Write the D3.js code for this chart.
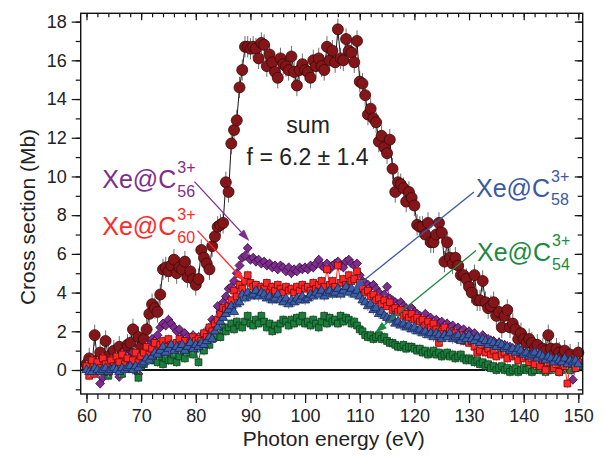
<!DOCTYPE html>
<html>
<head>
<meta charset="utf-8">
<script src="https://cdn.jsdelivr.net/npm/d3@7"></script>
<style>
  body { margin: 0; background: #fff; }
  svg { display: block; }
  text { font-family: "Liberation Sans", Arial, Helvetica, sans-serif; }
</style>
</head>
<body>
<svg id="chart" width="604" height="457"></svg>
<script>
// Photon energy grid: 60 eV to 150 eV in 0.5 eV steps
const eStart = 60, eStep = 0.5;

// Cross sections (Mb), one value per energy step
const sumCS = [
  0.3,0.6,0.2,1.8,0.5,0.9,0.4,1.5,0.7,0.3,1.0,0.6,1.2,0.5,0.9,1.3,1.4,2.1,0.8,1.7,1.2,
  1.6,2.1,2.9,3.4,3.2,3.0,3.9,5.2,5.3,5.1,5.4,5.7,5.0,5.3,5.2,5.6,4.8,5.1,4.7,4.4,
  4.7,6.2,5.8,5.5,5.2,6.4,6.9,7.4,7.5,7.6,9.7,9.2,11.7,12.4,12.9,14.6,15.5,16.7,16.7,16.6,
  16.7,16.6,16.1,16.9,16.8,15.7,16.3,15.9,15.4,15.1,16.1,15.8,15.7,15.5,16.2,15.4,14.7,15.5,15.8,15.5,
  15.4,15.1,16.0,15.7,16.1,15.7,15.5,16.7,16.0,16.5,15.9,17.6,16.1,16.0,17.1,16.5,16.4,15.9,17.0,14.9,
  14.8,14.2,13.2,13.5,13.0,12.8,11.8,12.1,11.5,11.2,11.9,10.4,9.2,9.7,9.6,9.4,8.7,9.2,8.9,8.5,
  7.5,7.4,7.4,7.0,7.6,6.6,6.6,7.0,7.6,7.1,5.6,6.6,5.8,5.5,5.8,5.4,4.9,4.9,4.7,4.3,
  4.0,4.9,3.6,3.6,4.6,3.5,3.2,3.3,3.5,2.8,3.0,2.2,2.8,3.1,2.2,2.4,2.1,1.6,1.9,1.6,
  1.4,1.6,1.4,1.1,1.3,0.9,1.1,1.0,1.8,1.1,0.8,1.1,0.9,0.7,1.0,0.6,0.8,0.4,0.5,0.9
];
const c56CS = [
  0.1,0.3,-0.2,0.4,0.2,-0.7,-0.4,0.5,0.0,0.3,0.6,0.1,-0.35,0.4,0.8,0.2,0.5,0.9,0.3,-0.2,0.7,
  0.8,1.0,1.3,1.6,1.5,1.8,2.2,2.4,2.3,2.6,2.4,2.2,2.0,2.1,1.8,1.9,1.7,1.5,1.8,1.6,
  1.7,1.5,1.9,2.0,2.2,2.6,2.5,3.3,3.0,3.5,3.8,4.2,4.3,4.6,5.0,5.4,5.8,5.9,6.3,5.7,
  5.8,5.6,5.7,5.5,5.6,5.4,5.5,5.3,5.4,5.2,5.4,5.3,5.1,5.3,5.0,5.2,5.1,5.3,5.2,5.3,
  5.2,5.4,5.3,5.5,5.7,5.4,5.3,5.5,5.2,5.4,5.5,5.6,5.4,5.3,5.6,5.7,5.5,5.4,5.5,4.9,
  4.6,4.5,4.4,4.3,4.4,4.2,4.0,3.8,3.9,4.3,3.7,3.6,3.5,3.4,3.5,3.3,3.2,3.1,3.2,3.0,
  2.9,2.8,2.7,2.9,2.6,2.7,2.5,2.6,2.4,2.5,2.3,2.4,2.2,2.3,2.1,2.2,2.0,2.1,1.9,2.0,
  1.8,1.9,1.7,1.6,1.8,1.5,1.6,1.4,1.5,1.3,1.4,1.2,1.3,1.1,1.2,1.0,1.1,0.9,1.0,0.8,
  0.9,0.7,0.8,0.6,0.9,0.5,0.7,0.4,0.6,0.3,0.5,0.2,0.4,0.0,0.3,0.1,0.2,-0.5,0.1,0.3
];
const c60CS = [
  0.2,-0.3,0.5,-0.2,0.4,0.1,0.6,0.3,-0.1,0.5,0.2,0.7,0.4,0.8,0.3,0.6,0.2,0.5,0.9,0.4,0.7,
  0.9,1.2,0.8,1.1,1.4,1.0,1.3,1.5,1.2,1.6,1.3,1.1,1.4,1.6,1.3,1.5,1.2,1.4,1.7,1.5,
  1.6,1.5,1.9,1.7,2.2,2.0,2.4,2.6,2.9,3.2,3.1,3.3,3.6,4.1,3.8,4.4,4.2,4.6,4.9,4.5,
  4.3,4.4,4.1,4.3,4.2,4.5,4.0,4.3,4.1,4.4,4.2,4.0,4.3,4.1,4.2,4.0,4.3,4.1,4.4,4.2,
  4.3,4.1,4.5,4.2,4.4,4.6,4.3,5.2,4.4,4.6,4.3,5.4,4.5,4.7,4.4,4.9,4.6,4.7,5.1,4.5,
  4.2,4.0,4.1,3.8,3.9,3.6,3.7,3.4,3.6,3.3,3.5,3.1,3.2,3.0,3.1,2.8,2.9,2.7,2.9,2.6,
  2.7,2.5,2.6,2.3,2.5,2.2,2.4,2.1,1.4,2.0,2.2,1.8,2.0,1.7,1.9,1.6,1.8,1.5,1.7,1.4,
  1.5,1.2,0.9,1.0,1.3,0.9,1.1,0.8,1.0,0.7,1.2,0.8,0.9,0.6,1.0,0.7,0.8,0.5,0.9,0.6,
  0.7,0.4,0.6,0.3,0.8,0.2,0.5,0.0,0.4,0.6,0.1,0.3,-0.1,0.4,0.2,-0.7,0.3,0.5,0.1,0.4
];
const c58CS = [
  0.0,-0.1,-0.1,0.1,0.0,-0.1,0.0,0.1,-0.1,0.0,0.1,0.0,-0.1,0.1,0.0,0.1,0.2,0.0,0.2,0.1,0.3,
  0.4,0.6,0.5,0.7,0.9,0.8,1.0,1.2,0.9,1.1,1.3,1.0,1.2,1.1,1.3,1.0,1.2,1.4,1.1,1.3,
  1.2,1.4,1.3,1.5,1.7,1.6,2.0,2.2,2.5,2.7,2.9,3.1,3.3,3.0,3.4,3.5,3.9,3.7,4.0,3.8,
  3.9,4.1,3.8,4.0,3.9,3.7,3.8,3.6,3.7,3.9,3.6,3.5,3.7,3.4,3.6,3.5,3.7,3.6,3.8,3.6,
  3.7,3.9,3.8,4.0,3.9,4.1,3.8,4.0,4.1,3.9,4.0,4.2,3.9,4.1,4.3,4.0,4.2,3.9,4.1,3.8,
  3.6,3.5,3.3,3.4,3.1,3.2,2.9,3.0,2.8,2.7,2.6,2.7,2.4,2.5,2.3,2.4,2.2,2.3,2.1,2.2,
  2.0,2.1,1.9,2.0,1.8,1.9,1.7,1.9,1.8,1.6,1.8,1.7,1.9,1.6,1.7,1.8,1.5,1.7,1.6,1.8,
  1.6,1.5,1.7,1.4,1.6,1.5,1.3,1.5,1.4,1.2,1.4,1.3,1.1,1.2,1.0,1.1,0.9,1.1,1.0,0.8,
  0.9,0.7,0.8,0.9,0.6,0.8,0.7,0.5,0.7,0.6,0.4,0.6,0.5,0.4,0.6,0.3,0.5,0.4,0.5,0.3
];
const c54CS = [
  0.1,0.3,-0.1,0.2,0.4,0.0,0.3,0.1,-0.3,0.2,0.4,0.1,0.3,-0.2,0.2,0.5,0.1,0.3,0.0,-0.4,0.2,
  0.3,0.6,1.0,0.5,0.8,0.4,0.7,0.3,0.6,0.5,0.5,0.8,0.4,0.7,1.0,0.6,0.9,1.2,0.8,1.1,
  0.4,1.2,1.0,1.4,1.3,1.6,1.7,1.8,1.7,2.2,2.0,2.2,2.4,2.1,2.5,2.3,2.2,2.5,2.8,2.4,
  2.3,2.6,2.4,2.8,2.5,2.2,2.4,2.0,2.3,2.1,2.4,2.6,2.5,2.3,2.6,2.4,2.7,2.5,2.8,2.4,
  2.5,2.3,2.6,2.4,2.2,2.5,2.8,2.4,2.7,2.5,2.6,2.4,2.8,2.5,2.7,2.6,2.4,2.5,2.3,2.1,
  2.0,1.8,1.7,1.8,1.6,1.7,1.8,1.6,1.7,1.5,1.4,1.4,1.3,1.2,1.2,1.3,1.1,1.2,1.2,1.1,
  1.0,1.1,0.9,1.0,0.8,0.9,1.0,0.8,0.9,0.7,0.8,0.9,0.7,0.8,0.6,0.7,0.8,0.6,0.5,0.6,
  0.5,0.4,0.5,0.3,0.4,0.2,0.3,0.1,0.2,0.0,0.1,0.2,0.0,0.1,-0.1,0.0,0.1,-0.1,0.0,0.1,
  0.0,0.1,-0.1,0.0,0.2,0.0,0.1,-0.1,0.1,0.0,0.2,0.1,-0.1,0.0,0.2,0.1,0.0,0.3,0.1,0.2
];

// Error bar half-widths (Mb)
const sumErr = 0.55;
const partErr = 0.25;

// Axis ticks
const xTicks = [60, 70, 80, 90, 100, 110, 120, 130, 140, 150];
const xMinorTicks = d3.range(60, 151, 2);
const yTicks = [0, 2, 4, 6, 8, 10, 12, 14, 16, 18];
const yMinorTicks = d3.range(-1, 19, 1);

const svg = d3.select("#chart");
const frame = { left: 80.7, right: 582.7, top: 13.3, bottom: 394 };

const x = d3.scaleLinear().domain([58.94, 150.8]).range([frame.left, frame.right]);
const y = d3.scaleLinear().domain([-1.24, 18.43]).range([frame.bottom, frame.top]);

const toPoints = vals => vals.map((v, i) => ({ e: eStart + i * eStep, v }));

// ---- axes ----
function styleAxis(g, withLabels) {
  g.select(".domain").remove();
  g.selectAll(".tick line").attr("stroke", "#111").attr("stroke-width", 1.2);
  g.selectAll(".tick text").attr("fill", "#222").attr("font-size", 18)
    .style("font-family", '"Liberation Sans", Arial, sans-serif');
  if (!withLabels) g.selectAll(".tick text").remove();
}

// bottom: outward ticks with labels
svg.append("g").attr("transform", `translate(0,${frame.bottom})`)
  .call(d3.axisBottom(x).tickValues(xMinorTicks).tickSize(5).tickFormat(""))
  .call(g => styleAxis(g, false));
svg.append("g").attr("transform", `translate(0,${frame.bottom})`)
  .call(d3.axisBottom(x).tickValues(xTicks).tickSize(9).tickPadding(6).tickFormat(d3.format("d")))
  .call(g => styleAxis(g, true));

// top: inward ticks
svg.append("g").attr("transform", `translate(0,${frame.top})`)
  .call(d3.axisTop(x).tickValues(xMinorTicks).tickSize(-4).tickFormat(""))
  .call(g => styleAxis(g, false));
svg.append("g").attr("transform", `translate(0,${frame.top})`)
  .call(d3.axisTop(x).tickValues(xTicks).tickSize(-7).tickFormat(""))
  .call(g => styleAxis(g, false));

// left: outward ticks with labels
svg.append("g").attr("transform", `translate(${frame.left},0)`)
  .call(d3.axisLeft(y).tickValues(yMinorTicks).tickSize(5).tickFormat(""))
  .call(g => styleAxis(g, false));
svg.append("g").attr("transform", `translate(${frame.left},0)`)
  .call(d3.axisLeft(y).tickValues(yTicks).tickSize(9).tickPadding(5).tickFormat(d3.format("d")))
  .call(g => styleAxis(g, true));

// right: inward ticks
svg.append("g").attr("transform", `translate(${frame.right},0)`)
  .call(d3.axisRight(y).tickValues(yMinorTicks).tickSize(-5).tickFormat(""))
  .call(g => styleAxis(g, false));
svg.append("g").attr("transform", `translate(${frame.right},0)`)
  .call(d3.axisRight(y).tickValues(yTicks).tickSize(-8).tickFormat(""))
  .call(g => styleAxis(g, false));

// zero line
svg.append("line")
  .attr("x1", frame.left).attr("x2", frame.right)
  .attr("y1", y(0)).attr("y2", y(0))
  .attr("stroke", "#111").attr("stroke-width", 2);

// ---- series ----
const series = [
  { vals: sumCS, err: sumErr, sym: d3.symbolCircle, size: 95, rot: 0,
    fill: "#84161a", stroke: "#3a0808", line: "#1a1a1a", errColor: "#6f6f6f" },
  { vals: c56CS, err: partErr, sym: d3.symbolSquare, size: 40, rot: 45,
    fill: "#7e2d8f", stroke: "#3a1044", line: "#7e2d8f", errColor: "#9a8aa0" },
  { vals: c54CS, err: partErr, sym: d3.symbolSquare, size: 46, rot: 0,
    fill: "#1c7f3c", stroke: "#0b3a1a", line: "#1c7f3c", errColor: "#8aa090" },
  { vals: c60CS, err: partErr, sym: d3.symbolSquare, size: 46, rot: 0,
    fill: "#ff2626", stroke: "#6a0a0a", line: "#ff3030", errColor: "#f08a8a" },
  { vals: c58CS, err: partErr, sym: d3.symbolTriangle, size: 36, rot: 0,
    fill: "#3d5ea9", stroke: "#16264e", line: "#3d5ea9", errColor: "#8a94b0" }
];

const lineGen = d3.line().x(d => x(d.e)).y(d => y(d.v));

series.forEach(s => {
  const pts = toPoints(s.vals);
  const g = svg.append("g");
  g.selectAll("line.err").data(pts).join("line")
    .attr("class", "err")
    .attr("x1", d => x(d.e)).attr("x2", d => x(d.e))
    .attr("y1", d => y(d.v - s.err)).attr("y2", d => y(d.v + s.err))
    .attr("stroke", s.errColor).attr("stroke-width", 1);
  g.append("path").datum(pts)
    .attr("d", lineGen).attr("fill", "none")
    .attr("stroke", s.line).attr("stroke-width", 1);
  const sym = d3.symbol().type(s.sym).size(s.size);
  g.selectAll("path.pt").data(pts).join("path")
    .attr("class", "pt")
    .attr("d", sym)
    .attr("transform", d => `translate(${x(d.e)},${y(d.v)}) rotate(${s.rot})`)
    .attr("fill", s.fill).attr("stroke", s.stroke).attr("stroke-width", 0.8);
});

// frame
svg.append("rect")
  .attr("x", frame.left).attr("y", frame.top)
  .attr("width", frame.right - frame.left).attr("height", frame.bottom - frame.top)
  .attr("fill", "none").attr("stroke", "#111").attr("stroke-width", 1.4);

// ---- axis titles ----
svg.append("text")
  .attr("x", (frame.left + frame.right) / 2 + 2).attr("y", 446)
  .attr("text-anchor", "middle").attr("font-size", 21).attr("fill", "#222")
  .text("Photon energy (eV)");
svg.append("text")
  .attr("transform", "translate(35,217) rotate(-90)")
  .attr("text-anchor", "middle").attr("font-size", 21).attr("fill", "#222")
  .text("Cross section (Mb)");

// ---- annotations (placed in data units) ----
svg.append("text").attr("x", x(100.55)).attr("y", y(12.23))
  .attr("text-anchor", "middle").attr("font-size", 23).attr("fill", "#222").text("sum");
svg.append("text").attr("x", x(100.46)).attr("y", y(10.59))
  .attr("text-anchor", "middle").attr("font-size", 23).attr("fill", "#222").text("f = 6.2 \u00B1 1.4");

const labels = [
  { sub: "56", color: "#7e2d8f", at: [62.89, 9.39], from: [79.75, 9.73], to: [89.8, 6.67] },
  { sub: "60", color: "#ff2a2a", at: [62.89, 6.98], from: [80.3, 7.2], to: [89.03, 4.56] },
  { sub: "58", color: "#3a58a6", at: [131.28, 8.94], from: [130.9, 9.2], to: [108.73, 4.17] },
  { sub: "54", color: "#1c8a40", at: [131.46, 5.63], from: [131.28, 6.17], to: [112.8, 1.93] }
];

labels.forEach(l => {
  const bx = x(l.at[0]), by = y(l.at[1]);
  const t = svg.append("text").attr("x", bx).attr("y", by)
    .attr("font-size", 25).attr("fill", l.color).text("Xe@C");
  const w = t.node().getComputedTextLength();
  svg.append("text").attr("x", bx + w + 1).attr("y", by - 15)
    .attr("font-size", 16).attr("fill", l.color).text("3+");
  svg.append("text").attr("x", bx + w + 1).attr("y", by + 8.5)
    .attr("font-size", 16).attr("fill", l.color).text(l.sub);

  // arrow with filled head
  const x1 = x(l.from[0]), y1 = y(l.from[1]);
  const x2 = x(l.to[0]), y2 = y(l.to[1]);
  const ang = Math.atan2(y2 - y1, x2 - x1);
  const headLen = 12, headHalf = 4;
  const bxh = x2 - headLen * Math.cos(ang), byh = y2 - headLen * Math.sin(ang);
  svg.append("line").attr("x1", x1).attr("y1", y1).attr("x2", bxh).attr("y2", byh)
    .attr("stroke", l.color).attr("stroke-width", 1.3);
  const px = -Math.sin(ang) * headHalf, py = Math.cos(ang) * headHalf;
  svg.append("path")
    .attr("d", `M${x2},${y2}L${bxh + px},${byh + py}L${bxh - px},${byh - py}Z`)
    .attr("fill", l.color);
});
</script>
</body>
</html>
